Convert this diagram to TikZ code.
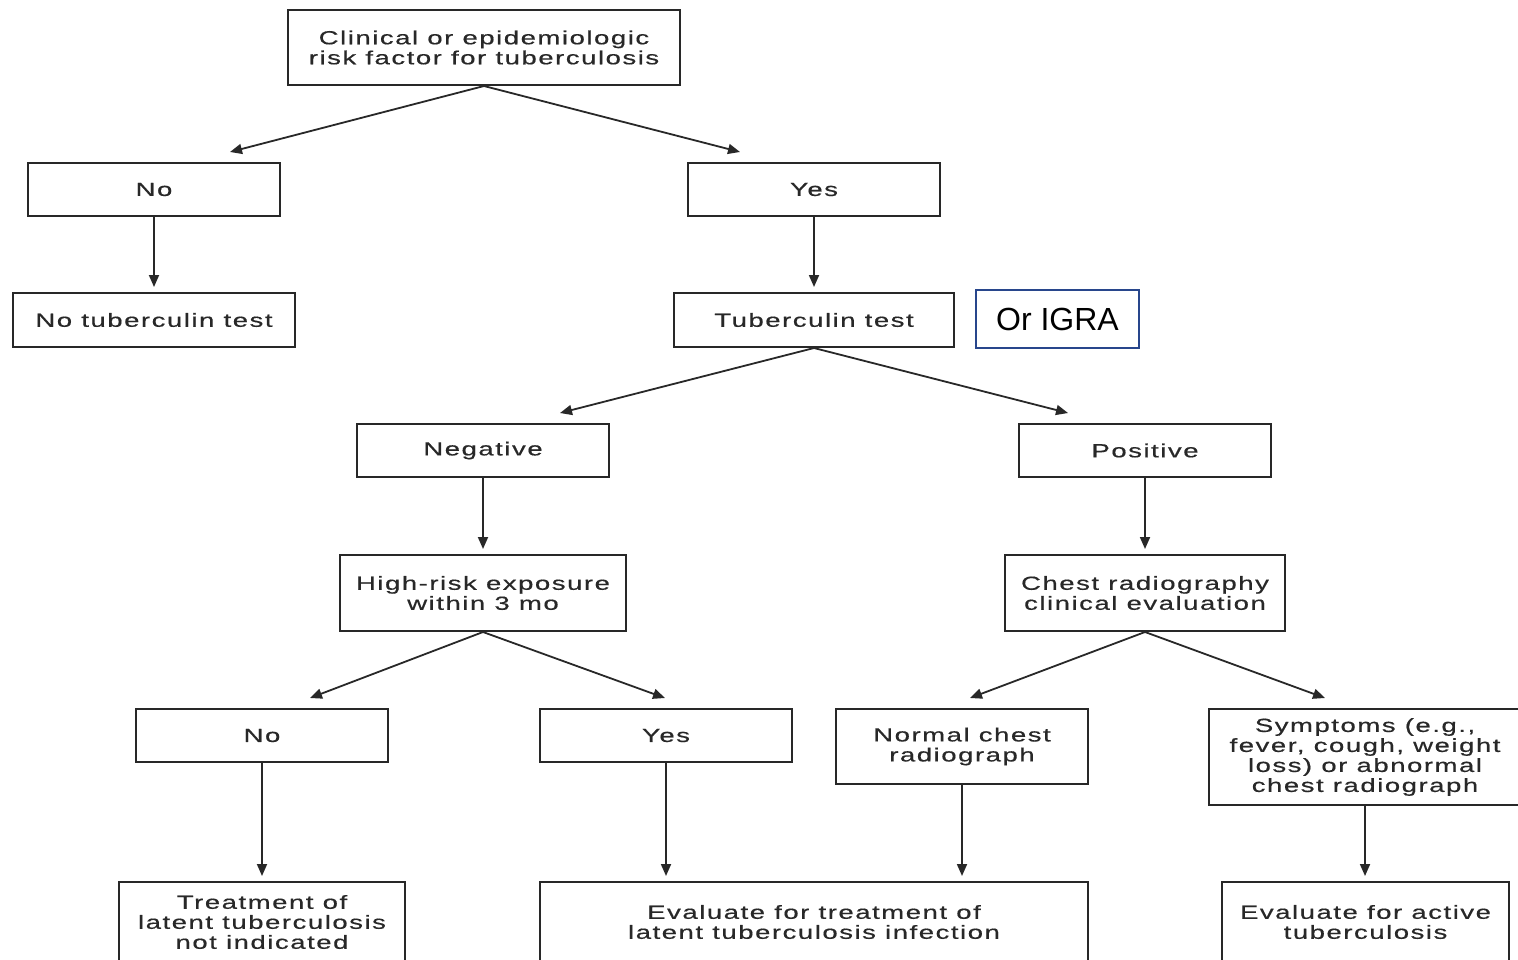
\documentclass[tikz,border=0pt]{standalone}
\usepackage{fontspec}
\setmainfont{Liberation Sans}[FakeStretch=1.45,LetterSpace=8,FakeBold=0.5]
\newfontfamily\plainfont{Liberation Sans}
\usetikzlibrary{arrows.meta}
\definecolor{inkgray}{RGB}{40,40,40}
\definecolor{igrablue}{RGB}{40,70,140}

\begin{document}
\begin{tikzpicture}[x=0.5pt,y=-0.5pt,
    box/.style={draw=inkgray,line width=1pt,align=center,inner sep=0pt,
      text=inkgray,font=\fontsize{9.5}{10}\selectfont,
      minimum width=126pt,minimum height=26.5pt},
    arr/.style={draw=inkgray,line width=0.9pt,-{Triangle[length=6pt,width=5pt]}}]
  \useasboundingbox (0,0) rectangle (1518,959);
  % level 1
  \node[box,minimum width=196pt,minimum height=37.5pt] (risk) at (484,47.5)
    {Clinical or epidemiologic\\risk factor for tuberculosis};
  \node[box] (no1) at (154,189.5) {No};
  \node[box] (yes1) at (814,189.5) {Yes};
  % level 2
  \node[box,minimum width=141pt,minimum height=27pt] (notest) at (154,320) {No tuberculin test};
  \node[box,minimum width=140pt,minimum height=27pt] (tst) at (814,320) {Tuberculin test};
  \node[draw=igrablue,line width=0.7pt,minimum width=81.5pt,minimum height=29pt,
    font=\plainfont\fontsize{16}{18}\selectfont] (igra) at (1057.5,319) {Or IGRA};
  % level 3
  \node[box] (neg) at (483,450.5) {Negative};
  \node[box] (pos) at (1145,450.5) {Positive};
  \node[box,minimum width=143pt,minimum height=38pt] (exposure) at (483,593)
    {High-risk exposure\\within 3 mo};
  \node[box,minimum width=140pt,minimum height=38pt] (chest) at (1145,593)
    {Chest radiography\\clinical evaluation};
  % level 4
  \node[box] (no2) at (262,735.5) {No};
  \node[box] (yes2) at (666,735.5) {Yes};
  \node[box,minimum height=37.5pt] (normal) at (962,746.5) {Normal chest\\radiograph};
  \node[box,minimum width=156pt,minimum height=48pt] (symptoms) at (1365,757)
    {Symptoms (e.g.,\\fever, cough, weight\\loss) or abnormal\\chest radiograph};
  % outcomes
  \node[box,minimum width=143pt,minimum height=40pt] (notreat) at (262,922)
    {Treatment of\\latent tuberculosis\\not indicated};
  \node[box,minimum width=274pt,minimum height=40pt] (ltbi) at (814,922)
    {Evaluate for treatment of\\latent tuberculosis infection};
  \node[box,minimum width=143.5pt,minimum height=40pt] (active) at (1365.5,922)
    {Evaluate for active\\tuberculosis};
  % arrow tips of the split arrows
  \coordinate (tipno1) at (230,152);
  \coordinate (tipyes1) at (740,152);
  \coordinate (tipneg) at (560,413);
  \coordinate (tippos) at (1068,413);
  \coordinate (tipno2) at (310,698);
  \coordinate (tipyes2) at (665,698);
  \coordinate (tipnormal) at (970,698);
  \coordinate (tipsymp) at (1325,698);
  % connectors
  \draw[arr] (risk.south) -- (tipno1);
  \draw[arr] (risk.south) -- (tipyes1);
  \draw[arr,shorten >=2.5pt] (no1) -- (notest);
  \draw[arr,shorten >=2.5pt] (yes1) -- (tst);
  \draw[arr] (tst.south) -- (tipneg);
  \draw[arr] (tst.south) -- (tippos);
  \draw[arr,shorten >=2.5pt] (neg) -- (exposure);
  \draw[arr,shorten >=2.5pt] (pos) -- (chest);
  \draw[arr] (exposure.south) -- (tipno2);
  \draw[arr] (exposure.south) -- (tipyes2);
  \draw[arr] (chest.south) -- (tipnormal);
  \draw[arr] (chest.south) -- (tipsymp);
  \draw[arr,shorten >=2.5pt] (no2) -- (no2 |- notreat.north);
  \draw[arr,shorten >=2.5pt] (yes2) -- (yes2 |- ltbi.north);
  \draw[arr,shorten >=2.5pt] (normal) -- (normal |- ltbi.north);
  \draw[arr,shorten >=2.5pt] (symptoms) -- (symptoms |- active.north);
\end{tikzpicture}
\end{document}
